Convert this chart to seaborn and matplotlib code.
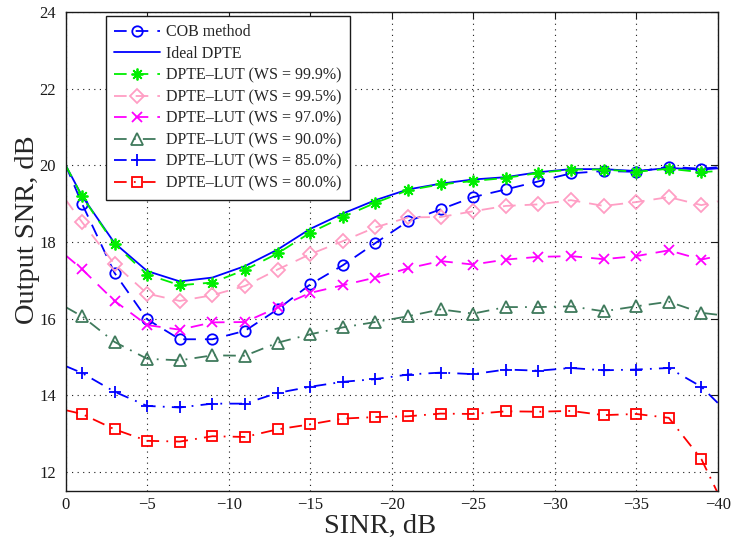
import matplotlib
matplotlib.use("Agg")
import matplotlib.pyplot as plt
from matplotlib.lines import Line2D
import seaborn as sns

# ---------------- data ----------------
sinr = [0, -1, -3, -5, -7, -9, -11, -13, -15, -17, -19, -21,
        -23, -25, -27, -29, -31, -33, -35, -37, -39, -40]

cob = [20.0, 19.0, 17.19, 15.98, 15.46, 15.46, 15.68, 16.24, 16.89, 17.39, 17.97,
       18.54, 18.85, 19.17, 19.37, 19.58, 19.79, 19.85, 19.83, 19.96, 19.91, 19.95]
ideal = [20.0, 19.2, 17.97, 17.24, 16.97, 17.07, 17.37, 17.80, 18.34, 18.74, 19.09,
         19.37, 19.52, 19.63, 19.69, 19.82, 19.90, 19.90, 19.85, 19.93, 19.89, 19.92]
ws999 = [20.0, 19.19, 17.94, 17.15, 16.87, 16.94, 17.27, 17.70, 18.24, 18.65, 19.02,
         19.35, 19.50, 19.59, 19.67, 19.80, 19.89, 19.89, 19.83, 19.91, 19.82, 19.85]
ws995 = [19.1, 18.52, 17.42, 16.65, 16.46, 16.61, 16.85, 17.28, 17.68, 18.02, 18.38,
         18.64, 18.65, 18.80, 18.94, 18.98, 19.09, 18.94, 19.04, 19.17, 18.96, 19.06]
ws970 = [17.65, 17.29, 16.46, 15.83, 15.71, 15.90, 15.91, 16.29, 16.67, 16.87, 17.07,
         17.31, 17.50, 17.41, 17.54, 17.61, 17.63, 17.55, 17.63, 17.78, 17.54, 17.63]
ws900 = [16.3, 16.06, 15.39, 14.95, 14.91, 15.04, 15.03, 15.37, 15.59, 15.77, 15.91,
         16.06, 16.24, 16.13, 16.30, 16.30, 16.32, 16.19, 16.32, 16.44, 16.15, 16.10]
ws850 = [14.76, 14.58, 14.09, 13.72, 13.68, 13.78, 13.78, 14.06, 14.22, 14.35, 14.42,
         14.54, 14.59, 14.55, 14.67, 14.64, 14.71, 14.65, 14.67, 14.71, 14.22, 13.80]
ws800 = [13.61, 13.51, 13.11, 12.81, 12.79, 12.93, 12.91, 13.11, 13.24, 13.39, 13.43,
         13.45, 13.52, 13.51, 13.58, 13.57, 13.59, 13.48, 13.51, 13.41, 12.33, 11.45]

labels = ["COB method", "Ideal DPTE",
          "DPTE\u2013LUT (WS = 99.9%)", "DPTE\u2013LUT (WS = 99.5%)",
          "DPTE\u2013LUT (WS = 97.0%)", "DPTE\u2013LUT (WS = 90.0%)",
          "DPTE\u2013LUT (WS = 85.0%)", "DPTE\u2013LUT (WS = 80.0%)"]
xticks = [0, -5, -10, -15, -20, -25, -30, -35, -40]
yticks = [12, 14, 16, 18, 20, 22, 24]

# ---------------- style ----------------
sns.set_theme(style="white")
plt.rcParams['font.family'] = ['Liberation Serif', 'DejaVu Serif']
plt.rcParams['axes.unicode_minus'] = True

fig = plt.figure(figsize=(7.48, 5.41), dpi=100)
ax = fig.add_axes([0.0878, 0.0924, 0.8717, 0.8854])

DASH = (0, (7, 5))
DASHDOT = (0, (7, 4, 1, 4))
series = [
    (cob,   '#0000ff', DASH,    'o',       7.5),
    (ideal, '#0000ff', '-',     None,      0),
    (ws999, '#00ee00', DASH,    (8, 2, 0), 8.5),
    (ws995, '#ff9ec4', DASH,    'D',       7.0),
    (ws970, '#ff00ff', DASH,    'x',       7.0),
    (ws900, '#3f7a5c', DASHDOT, '^',       8.5),
    (ws850, '#0000ff', DASHDOT, '+',       9.0),
    (ws800, '#ff0000', DASHDOT, 's',       6.5),
]
LW = 1.3

handles = []
for vals, c, ls, mk, ms in series:
    sns.lineplot(x=sinr, y=vals, ax=ax, color=c, linestyle=ls, linewidth=LW,
                 sort=False, legend=False, errorbar=None)
    if mk is not None:
        sns.lineplot(x=sinr[1:-1], y=vals[1:-1], ax=ax, color=c, linestyle='none',
                     marker=mk, markersize=ms, markerfacecolor='none',
                     markeredgecolor=c, markeredgewidth=LW,
                     sort=False, legend=False, errorbar=None)
    handles.append(Line2D([], [], color=c, linestyle=ls, linewidth=LW,
                          marker=mk if mk is not None else 'None',
                          markersize=ms, markerfacecolor='none',
                          markeredgecolor=c, markeredgewidth=LW))

ax.set_xlim(0, -40)
ax.set_ylim(11.5, 24)
ax.set_xticks(xticks)
ax.set_yticks(yticks)
ax.grid(True, linestyle=(0, (1, 4)), color='k', linewidth=0.8)
ax.set_axisbelow(True)
ax.tick_params(direction='in', length=5, width=0.8, top=True, right=True,
               labelsize=12, colors='k')
ax.tick_params(axis='x', pad=4)
ax.tick_params(axis='y', pad=7)
for s in ax.spines.values():
    s.set_color('k')
    s.set_linewidth(1.0)

ax.set_xlabel("SINR, dB", fontsize=20.5)
ax.set_ylabel("Output SNR, dB", fontsize=20.5)
ax.xaxis.set_label_coords(0.482, -0.073)
ax.yaxis.set_label_coords(-0.058, 0.545)
ax.xaxis.label.set_va('center')
ax.yaxis.label.set_va('center')

leg = ax.legend(handles=handles, labels=labels,
                numpoints=1, loc='upper left', bbox_to_anchor=(0.0613, 0.9916),
                borderaxespad=0, fontsize=11.5, handlelength=2.9,
                handletextpad=0.35, labelspacing=0.35, borderpad=0.52,
                fancybox=False, frameon=True, framealpha=1)
leg.get_frame().set_edgecolor('k')
leg.get_frame().set_linewidth(1.0)

fig.savefig("out.png", dpi=100)
